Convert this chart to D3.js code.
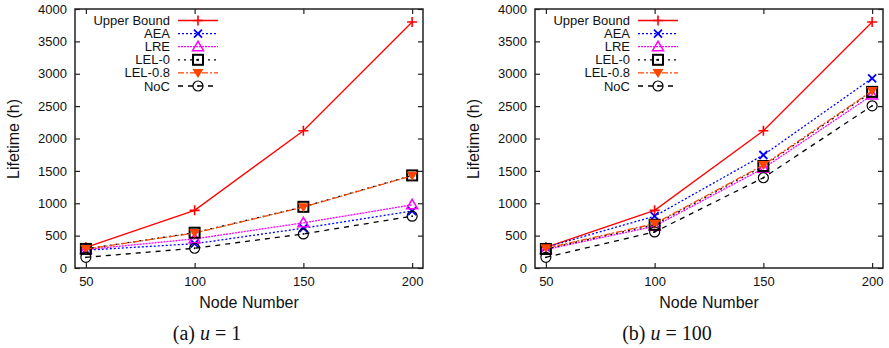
<!DOCTYPE html>
<html>
<head>
<meta charset="utf-8">
<script src="https://cdn.jsdelivr.net/npm/d3@7"></script>
<style>
  body { margin: 0; background: #fff; }
  svg { display: block; }
  .tick text { font-family: "Liberation Sans", Arial, sans-serif; font-size: 13px; fill: #111; }
</style>
</head>
<body>
<div id="chart"></div>
<script>
const nodes = [50, 100, 150, 200];
const yTicks = [0, 500, 1000, 1500, 2000, 2500, 3000, 3500, 4000];
const seriesNames = ["Upper Bound", "AEA", "LRE", "LEL-0", "LEL-0.8", "NoC"];

// (a) u = 1
const upperA = [320, 890, 2120, 3800];
const aeaA = [275, 375, 615, 880];
const lreA = [285, 450, 697, 975];
const lel0A = [295, 545, 945, 1430];
const lel08A = [292, 540, 940, 1425];
const nocA = [165, 305, 526, 800];

// (b) u = 100
const upperB = [320, 890, 2120, 3800];
const aeaB = [320, 800, 1745, 2930];
const lreB = [285, 645, 1540, 2670];
const lel0B = [294, 668, 1575, 2720];
const lel08B = [305, 685, 1590, 2735];
const nocB = [165, 557, 1394, 2505];

const styles = [
  {color: "#ff0000", dash: null, marker: "plus"},
  {color: "#0000ff", dash: "2,2", marker: "cross"},
  {color: "#ff00ff", dash: "2,1", marker: "tri"},
  {color: "#000000", dash: "2,4", marker: "square"},
  {color: "#ff4500", dash: "6,2,2,2", marker: "dtri"},
  {color: "#000000", dash: "5,5", marker: "circle"}
];

const W = 889, H = 348;
const svg = d3.select("#chart").append("svg")
    .attr("width", W).attr("height", H);

function drawMarker(g, type, color, x, y) {
  const s = 5;
  if (type === "plus") {
    g.append("path").attr("d", `M${x-s},${y}H${x+s}M${x},${y-s}V${y+s}`)
      .attr("stroke", color).attr("stroke-width", 1.6).attr("fill", "none");
  } else if (type === "cross") {
    g.append("path").attr("d", `M${x-4},${y-4}L${x+4},${y+4}M${x-4},${y+4}L${x+4},${y-4}`)
      .attr("stroke", color).attr("stroke-width", 1.8).attr("fill", "none");
  } else if (type === "tri") {
    g.append("path").attr("d", `M${x},${y-5.5}L${x+5.5},${y+4}L${x-5.5},${y+4}Z`)
      .attr("stroke", color).attr("stroke-width", 1.5).attr("fill", "none");
  } else if (type === "square") {
    g.append("rect").attr("x", x-5).attr("y", y-5).attr("width", 10).attr("height", 10)
      .attr("stroke", color).attr("stroke-width", 2).attr("fill", "none");
    g.append("rect").attr("x", x-1).attr("y", y-1).attr("width", 2).attr("height", 2)
      .attr("fill", color);
  } else if (type === "dtri") {
    g.append("path").attr("d", `M${x-5.5},${y-4}L${x+5.5},${y-4}L${x},${y+5}Z`)
      .attr("fill", color);
  } else if (type === "circle") {
    g.append("circle").attr("cx", x).attr("cy", y).attr("r", 5)
      .attr("stroke", color).attr("stroke-width", 1.2).attr("fill", "none");
    g.append("circle").attr("cx", x).attr("cy", y).attr("r", 0.9).attr("fill", color);
  }
}

function drawPanel(left, series, caption) {
  const x = d3.scaleLinear().domain([45, 205]).range([left, left + 348]);
  const y = d3.scaleLinear().domain([0, 4000]).range([268, 9]);
  const g = svg.append("g");

  g.append("g").attr("transform", "translate(0,268)")
    .call(d3.axisBottom(x).tickValues(nodes).tickSize(-5).tickPadding(9).tickFormat(d3.format("d")))
    .call(a => a.select(".domain").remove());
  g.append("g").attr("transform", "translate(0,9)")
    .call(d3.axisTop(x).tickValues(nodes).tickSize(-5).tickFormat(""))
    .call(a => a.select(".domain").remove());
  g.append("g").attr("transform", `translate(${left},0)`)
    .call(d3.axisLeft(y).tickValues(yTicks).tickSize(-5).tickPadding(8).tickFormat(d3.format("d")))
    .call(a => a.select(".domain").remove());
  g.append("g").attr("transform", `translate(${left + 348},0)`)
    .call(d3.axisRight(y).tickValues(yTicks).tickSize(-5).tickFormat(""))
    .call(a => a.select(".domain").remove());
  g.selectAll(".tick line").attr("stroke", "#222").attr("stroke-width", 1.2);

  const line = d3.line().x((d, i) => x(nodes[i])).y(d => y(d));
  series.forEach((vals, k) => {
    const st = styles[k];
    g.append("path").datum(vals).attr("d", line)
      .attr("fill", "none").attr("stroke", st.color).attr("stroke-width", 1.3)
      .attr("stroke-dasharray", st.dash);
    vals.forEach((v, i) => drawMarker(g, st.marker, st.color, x(nodes[i]), y(v)));
  });

  // legend
  seriesNames.forEach((name, k) => {
    const st = styles[k];
    const ly = 20.5 + k * 13.1;
    g.append("text").attr("x", left + 95).attr("y", ly).attr("dy", "0.35em")
      .attr("text-anchor", "end")
      .style("font-family", "Liberation Sans, Arial, sans-serif").style("font-size", "13px")
      .attr("fill", "#111").text(name);
    g.append("line").attr("x1", left + 103).attr("x2", left + 143).attr("y1", ly).attr("y2", ly)
      .attr("stroke", st.color).attr("stroke-width", 1.3).attr("stroke-dasharray", st.dash);
    drawMarker(g, st.marker, st.color, left + 123, ly);
  });

  g.append("rect").attr("x", left).attr("y", 9).attr("width", 348).attr("height", 259)
    .attr("fill", "none").attr("stroke", "#222").attr("stroke-width", 1.5);

  g.append("text").attr("transform", `translate(${left - 62},139) rotate(-90)`)
    .attr("text-anchor", "middle").attr("dy", "0.35em")
    .style("font-family", "Liberation Sans, Arial, sans-serif").style("font-size", "16px")
    .attr("fill", "#111").text("Lifetime (h)");
  g.append("text").attr("x", left + 174).attr("y", 302).attr("dy", "0.35em")
    .attr("text-anchor", "middle")
    .style("font-family", "Liberation Sans, Arial, sans-serif").style("font-size", "16px")
    .attr("fill", "#111").text("Node Number");

  const cap = g.append("text").attr("x", left + 132).attr("y", 333).attr("dy", "0.35em")
    .attr("text-anchor", "middle")
    .style("font-family", "Liberation Serif, Times New Roman, serif").style("font-size", "20px")
    .attr("fill", "#111").attr("xml:space", "preserve");
  cap.append("tspan").text(caption[0] + " ");
  cap.append("tspan").style("font-style", "italic").text("u");
  cap.append("tspan").text("\u2005=\u2005" + caption[1]);
}

drawPanel(75, [upperA, aeaA, lreA, lel0A, lel08A, nocA], ["(a)", "1"]);
drawPanel(535, [upperB, aeaB, lreB, lel0B, lel08B, nocB], ["(b)", "100"]);
</script>
</body>
</html>
